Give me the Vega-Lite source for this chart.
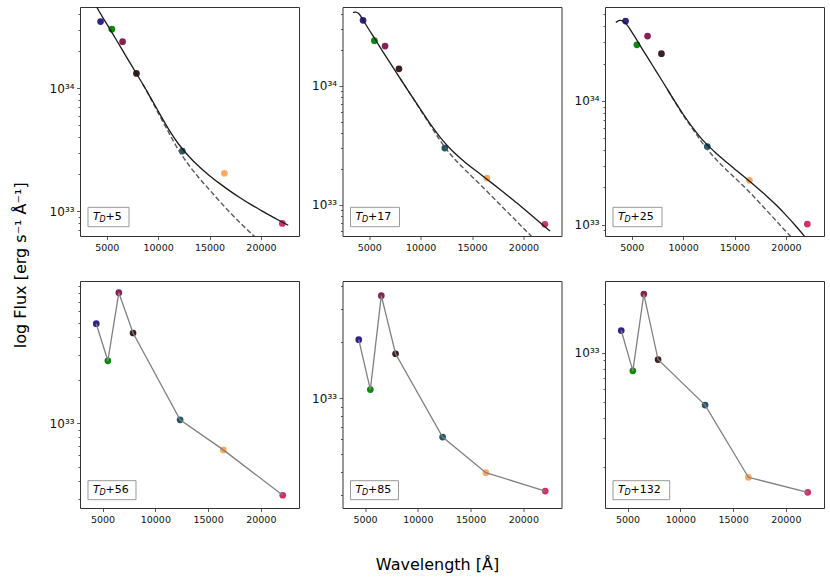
{
  "$schema": "https://vega.github.io/schema/vega-lite/v6.json",
  "description": "SED fits per epoch",
  "padding": {"left": 12, "top": 6, "right": 2, "bottom": 5},
  "background": "white",
  "config": {
    "font": "DejaVu Sans",
    "view": {"stroke": "#333333", "strokeWidth": 1},
    "axis": {"domain": false, "grid": false, "ticks": true, "tickColor": "#333333", "tickSize": 3.5, "tickWidth": 0.8, "labelFont": "DejaVu Sans", "labelFontSize": 9.5, "labelColor": "#111111", "labelPadding": 2.5, "labelFlush": false, "labelOverlap": false},
    "title": {"font": "DejaVu Sans", "fontSize": 16, "fontWeight": "normal", "color": "#000000"}
  },
  "data": {
    "values": [
      {"p": "5", "k": "obs", "b": "B", "wl": 4400, "f": 3.48e34},
      {"p": "5", "k": "obs", "b": "V", "wl": 5500, "f": 3.02e34},
      {"p": "5", "k": "obs", "b": "R", "wl": 6540, "f": 2.39e34},
      {"p": "5", "k": "obs", "b": "I", "wl": 7890, "f": 1.32e34},
      {"p": "5", "k": "obs", "b": "J", "wl": 12350, "f": 3.09e33},
      {"p": "5", "k": "obs", "b": "H", "wl": 16450, "f": 2.04e33},
      {"p": "5", "k": "obs", "b": "K", "wl": 22080, "f": 7.98e32},
      {"p": "17", "k": "obs", "b": "B", "wl": 4400, "f": 3.56e34},
      {"p": "17", "k": "obs", "b": "V", "wl": 5500, "f": 2.40e34},
      {"p": "17", "k": "obs", "b": "R", "wl": 6540, "f": 2.16e34},
      {"p": "17", "k": "obs", "b": "I", "wl": 7890, "f": 1.39e34},
      {"p": "17", "k": "obs", "b": "J", "wl": 12350, "f": 2.99e33},
      {"p": "17", "k": "obs", "b": "H", "wl": 16450, "f": 1.67e33},
      {"p": "17", "k": "obs", "b": "K", "wl": 22080, "f": 6.82e32},
      {"p": "25", "k": "obs", "b": "B", "wl": 4400, "f": 4.42e34},
      {"p": "25", "k": "obs", "b": "V", "wl": 5500, "f": 2.84e34},
      {"p": "25", "k": "obs", "b": "R", "wl": 6540, "f": 3.34e34},
      {"p": "25", "k": "obs", "b": "I", "wl": 7890, "f": 2.41e34},
      {"p": "25", "k": "obs", "b": "J", "wl": 12350, "f": 4.28e33},
      {"p": "25", "k": "obs", "b": "H", "wl": 16450, "f": 2.28e33},
      {"p": "25", "k": "obs", "b": "K", "wl": 22080, "f": 1.01e33},
      {"p": "56", "k": "obs", "b": "B", "wl": 4400, "f": 4.92e33},
      {"p": "56", "k": "obs", "b": "V", "wl": 5500, "f": 2.72e33},
      {"p": "56", "k": "obs", "b": "R", "wl": 6540, "f": 8.07e33},
      {"p": "56", "k": "obs", "b": "I", "wl": 7890, "f": 4.24e33},
      {"p": "56", "k": "obs", "b": "J", "wl": 12350, "f": 1.06e33},
      {"p": "56", "k": "obs", "b": "H", "wl": 16450, "f": 6.56e32},
      {"p": "56", "k": "obs", "b": "K", "wl": 22080, "f": 3.18e32},
      {"p": "85", "k": "obs", "b": "B", "wl": 4400, "f": 2.06e33},
      {"p": "85", "k": "obs", "b": "V", "wl": 5500, "f": 1.11e33},
      {"p": "85", "k": "obs", "b": "R", "wl": 6540, "f": 3.55e33},
      {"p": "85", "k": "obs", "b": "I", "wl": 7890, "f": 1.73e33},
      {"p": "85", "k": "obs", "b": "J", "wl": 12350, "f": 6.17e32},
      {"p": "85", "k": "obs", "b": "H", "wl": 16450, "f": 3.97e32},
      {"p": "85", "k": "obs", "b": "K", "wl": 22080, "f": 3.16e32},
      {"p": "132", "k": "obs", "b": "B", "wl": 4400, "f": 1.37e33},
      {"p": "132", "k": "obs", "b": "V", "wl": 5500, "f": 7.76e32},
      {"p": "132", "k": "obs", "b": "R", "wl": 6540, "f": 2.29e33},
      {"p": "132", "k": "obs", "b": "I", "wl": 7890, "f": 9.1e32},
      {"p": "132", "k": "obs", "b": "J", "wl": 12350, "f": 4.79e32},
      {"p": "132", "k": "obs", "b": "H", "wl": 16450, "f": 1.73e32},
      {"p": "132", "k": "obs", "b": "K", "wl": 22080, "f": 1.40e32},

      {"p": "5", "k": "bb", "wl": 3400, "f": 5.75e34},
      {"p": "5", "k": "bb", "wl": 4020, "f": 4.57e34},
      {"p": "5", "k": "bb", "wl": 5000, "f": 3.33e34},
      {"p": "5", "k": "bb", "wl": 6000, "f": 2.42e34},
      {"p": "5", "k": "bb", "wl": 7000, "f": 1.75e34},
      {"p": "5", "k": "bb", "wl": 8000, "f": 1.27e34},
      {"p": "5", "k": "bb", "wl": 9000, "f": 9.18e33},
      {"p": "5", "k": "bb", "wl": 10000, "f": 6.53e33},
      {"p": "5", "k": "bb", "wl": 11000, "f": 4.68e33},
      {"p": "5", "k": "bb", "wl": 12000, "f": 3.51e33},
      {"p": "5", "k": "bb", "wl": 13000, "f": 2.79e33},
      {"p": "5", "k": "bb", "wl": 14000, "f": 2.30e33},
      {"p": "5", "k": "bb", "wl": 15000, "f": 1.95e33},
      {"p": "5", "k": "bb", "wl": 16000, "f": 1.68e33},
      {"p": "5", "k": "bb", "wl": 17000, "f": 1.46e33},
      {"p": "5", "k": "bb", "wl": 18000, "f": 1.285e33},
      {"p": "5", "k": "bb", "wl": 19000, "f": 1.14e33},
      {"p": "5", "k": "bb", "wl": 20000, "f": 1.019e33},
      {"p": "5", "k": "bb", "wl": 21000, "f": 9.14e32},
      {"p": "5", "k": "bb", "wl": 22000, "f": 8.24e32},
      {"p": "5", "k": "bb", "wl": 22650, "f": 7.71e32},
      {"p": "5", "k": "bb2", "wl": 8500, "f": 1.079e34},
      {"p": "5", "k": "bb2", "wl": 9000, "f": 9.12e33},
      {"p": "5", "k": "bb2", "wl": 10000, "f": 6.31e33},
      {"p": "5", "k": "bb2", "wl": 11000, "f": 4.42e33},
      {"p": "5", "k": "bb2", "wl": 12000, "f": 3.13e33},
      {"p": "5", "k": "bb2", "wl": 13000, "f": 2.37e33},
      {"p": "5", "k": "bb2", "wl": 14000, "f": 1.86e33},
      {"p": "5", "k": "bb2", "wl": 15000, "f": 1.496e33},
      {"p": "5", "k": "bb2", "wl": 16000, "f": 1.202e33},
      {"p": "5", "k": "bb2", "wl": 17000, "f": 9.77e32},
      {"p": "5", "k": "bb2", "wl": 18000, "f": 8.04e32},
      {"p": "5", "k": "bb2", "wl": 19000, "f": 6.68e32},
      {"p": "5", "k": "bb2", "wl": 20000, "f": 5.62e32},

      {"p": "17", "k": "bb", "wl": 3422, "f": 4.16e34},
      {"p": "17", "k": "bb", "wl": 3700, "f": 4.17e34},
      {"p": "17", "k": "bb", "wl": 3971, "f": 4.06e34},
      {"p": "17", "k": "bb", "wl": 4390, "f": 3.60e34},
      {"p": "17", "k": "bb", "wl": 4939, "f": 3.01e34},
      {"p": "17", "k": "bb", "wl": 5520, "f": 2.51e34},
      {"p": "17", "k": "bb", "wl": 6000, "f": 2.15e34},
      {"p": "17", "k": "bb", "wl": 7000, "f": 1.574e34},
      {"p": "17", "k": "bb", "wl": 8000, "f": 1.156e34},
      {"p": "17", "k": "bb", "wl": 9000, "f": 8.51e33},
      {"p": "17", "k": "bb", "wl": 10000, "f": 6.31e33},
      {"p": "17", "k": "bb", "wl": 11000, "f": 4.68e33},
      {"p": "17", "k": "bb", "wl": 12000, "f": 3.59e33},
      {"p": "17", "k": "bb", "wl": 13000, "f": 2.88e33},
      {"p": "17", "k": "bb", "wl": 14000, "f": 2.40e33},
      {"p": "17", "k": "bb", "wl": 15000, "f": 2.04e33},
      {"p": "17", "k": "bb", "wl": 16000, "f": 1.75e33},
      {"p": "17", "k": "bb", "wl": 17000, "f": 1.50e33},
      {"p": "17", "k": "bb", "wl": 18000, "f": 1.28e33},
      {"p": "17", "k": "bb", "wl": 19000, "f": 1.091e33},
      {"p": "17", "k": "bb", "wl": 20000, "f": 9.25e32},
      {"p": "17", "k": "bb", "wl": 21000, "f": 7.82e32},
      {"p": "17", "k": "bb", "wl": 22000, "f": 6.61e32},
      {"p": "17", "k": "bb", "wl": 22588, "f": 5.98e32},
      {"p": "17", "k": "bb2", "wl": 8000, "f": 1.156e34},
      {"p": "17", "k": "bb2", "wl": 9000, "f": 8.51e33},
      {"p": "17", "k": "bb2", "wl": 10000, "f": 6.24e33},
      {"p": "17", "k": "bb2", "wl": 11000, "f": 4.57e33},
      {"p": "17", "k": "bb2", "wl": 12000, "f": 3.36e33},
      {"p": "17", "k": "bb2", "wl": 13000, "f": 2.59e33},
      {"p": "17", "k": "bb2", "wl": 14000, "f": 2.09e33},
      {"p": "17", "k": "bb2", "wl": 15000, "f": 1.718e33},
      {"p": "17", "k": "bb2", "wl": 16000, "f": 1.413e33},
      {"p": "17", "k": "bb2", "wl": 17000, "f": 1.156e33},
      {"p": "17", "k": "bb2", "wl": 18000, "f": 9.44e32},
      {"p": "17", "k": "bb2", "wl": 19000, "f": 7.73e32},
      {"p": "17", "k": "bb2", "wl": 20000, "f": 6.31e32},
      {"p": "17", "k": "bb2", "wl": 21000, "f": 5.16e32},
      {"p": "17", "k": "bb2", "wl": 21300, "f": 4.86e32},

      {"p": "25", "k": "bb", "wl": 3451, "f": 4.31e34},
      {"p": "25", "k": "bb", "wl": 3874, "f": 4.47e34},
      {"p": "25", "k": "bb", "wl": 4200, "f": 4.40e34},
      {"p": "25", "k": "bb", "wl": 4487, "f": 4.17e34},
      {"p": "25", "k": "bb", "wl": 5000, "f": 3.61e34},
      {"p": "25", "k": "bb", "wl": 6000, "f": 2.65e34},
      {"p": "25", "k": "bb", "wl": 7000, "f": 1.95e34},
      {"p": "25", "k": "bb", "wl": 8000, "f": 1.435e34},
      {"p": "25", "k": "bb", "wl": 9000, "f": 1.05e34},
      {"p": "25", "k": "bb", "wl": 10000, "f": 7.80e33},
      {"p": "25", "k": "bb", "wl": 11000, "f": 5.98e33},
      {"p": "25", "k": "bb", "wl": 12000, "f": 4.73e33},
      {"p": "25", "k": "bb", "wl": 13000, "f": 3.92e33},
      {"p": "25", "k": "bb", "wl": 14000, "f": 3.31e33},
      {"p": "25", "k": "bb", "wl": 15000, "f": 2.82e33},
      {"p": "25", "k": "bb", "wl": 16000, "f": 2.41e33},
      {"p": "25", "k": "bb", "wl": 17000, "f": 2.056e33},
      {"p": "25", "k": "bb", "wl": 18000, "f": 1.738e33},
      {"p": "25", "k": "bb", "wl": 19000, "f": 1.452e33},
      {"p": "25", "k": "bb", "wl": 20000, "f": 1.194e33},
      {"p": "25", "k": "bb", "wl": 21000, "f": 9.66e32},
      {"p": "25", "k": "bb", "wl": 22000, "f": 7.67e32},
      {"p": "25", "k": "bb", "wl": 22300, "f": 7.13e32},
      {"p": "25", "k": "bb2", "wl": 8500, "f": 1.225e34},
      {"p": "25", "k": "bb2", "wl": 9000, "f": 1.047e34},
      {"p": "25", "k": "bb2", "wl": 10000, "f": 7.67e33},
      {"p": "25", "k": "bb2", "wl": 11000, "f": 5.82e33},
      {"p": "25", "k": "bb2", "wl": 12000, "f": 4.42e33},
      {"p": "25", "k": "bb2", "wl": 13000, "f": 3.51e33},
      {"p": "25", "k": "bb2", "wl": 14000, "f": 2.88e33},
      {"p": "25", "k": "bb2", "wl": 15000, "f": 2.40e33},
      {"p": "25", "k": "bb2", "wl": 16000, "f": 2.0e33},
      {"p": "25", "k": "bb2", "wl": 17000, "f": 1.641e33},
      {"p": "25", "k": "bb2", "wl": 18000, "f": 1.334e33},
      {"p": "25", "k": "bb2", "wl": 19000, "f": 1.084e33},
      {"p": "25", "k": "bb2", "wl": 20000, "f": 8.81e32},
      {"p": "25", "k": "bb2", "wl": 21000, "f": 7.24e32},

      {"p": "5", "k": "lab", "t": "+5"},
      {"p": "17", "k": "lab", "t": "+17"},
      {"p": "25", "k": "lab", "t": "+25"},
      {"p": "56", "k": "lab", "t": "+56"},
      {"p": "85", "k": "lab", "t": "+85"},
      {"p": "132", "k": "lab", "t": "+132"}
    ]
  },
  "title": {"text": "Wavelength [Å]", "orient": "bottom", "anchor": "middle", "offset": 33, "dx": 19},
  "vconcat": [
    {
      "title": {"text": "log Flux [erg s⁻¹ Å⁻¹]", "orient": "left", "anchor": "middle", "offset": 20},
      "columns": 3,
      "spacing": {"row": 45, "column": 43.5},
      "bounds": "flush",
      "concat": [
        {
          "width": 219, "height": 229,
          "transform": [{"filter": "datum.p == '5'"}],
          "layer": [
            {"transform": [{"filter": "datum.k == 'obs'"}],
             "mark": {"type": "circle", "size": 45, "opacity": 1},
             "encoding": {
               "x": {"field": "wl", "type": "quantitative", "scale": {"domain": [2400, 23700], "nice": false, "zero": false}, "axis": {"values": [5000, 10000, 15000, 20000], "format": "d", "title": null}},
               "y": {"field": "f", "type": "quantitative", "scale": {"type": "log", "domain": [6.31e32, 4.571e34], "nice": false}, "axis": {"orient": "left", "values": [1e33, 1e34], "labelFontSize": 12, "labelExpr": "datum.value > 5e33 ? '10³⁴' : '10³³'", "title": null}},
               "color": {"field": "b", "type": "nominal", "scale": {"domain": ["B", "V", "R", "I", "J", "H", "K"], "range": ["#332288", "#0c8a0c", "#882255", "#3b2020", "#225566", "#ffaa5f", "#cc3366"]}, "legend": null}}},
            {"transform": [{"filter": "datum.k == 'bb2'"}],
             "mark": {"type": "line", "clip": true, "interpolate": "monotone", "color": "#5a5a5a", "strokeWidth": 1.4, "strokeDash": [5, 2.5]},
             "encoding": {
               "x": {"field": "wl", "type": "quantitative", "scale": {"domain": [2400, 23700], "nice": false, "zero": false}, "axis": null},
               "y": {"field": "f", "type": "quantitative", "scale": {"type": "log", "domain": [6.31e32, 4.571e34], "nice": false}, "axis": {"orient": "left", "values": [7e32, 8e32, 9e32, 2e33, 3e33, 4e33, 5e33, 6e33, 7e33, 8e33, 9e33, 2e34, 3e34, 4e34], "labels": false, "tickSize": 2, "title": null}}}},
            {"transform": [{"filter": "datum.k == 'bb'"}],
             "mark": {"type": "line", "clip": true, "interpolate": "monotone", "color": "#1a1a1a", "strokeWidth": 1.3},
             "encoding": {
               "x": {"field": "wl", "type": "quantitative", "scale": {"domain": [2400, 23700], "nice": false, "zero": false}, "axis": null},
               "y": {"field": "f", "type": "quantitative", "scale": {"type": "log", "domain": [6.31e32, 4.571e34], "nice": false}, "axis": null}}},
            {"transform": [{"filter": "datum.k == 'lab'"}],
             "mark": {"type": "rect", "fill": "#ffffff", "stroke": "#999999", "strokeWidth": 1},
             "encoding": {
               "x": {"datum": 3178, "type": "quantitative", "scale": {"domain": [2400, 23700], "nice": false, "zero": false}, "axis": null},
               "x2": {"datum": 7166},
               "y": {"datum": 7.51e32, "type": "quantitative", "scale": {"type": "log", "domain": [6.31e32, 4.571e34], "nice": false}, "axis": null},
               "y2": {"datum": 1.079e33}}},
            {"transform": [{"filter": "datum.k == 'lab'"}],
             "mark": {"type": "text", "text": "T", "font": "DejaVu Sans", "fontStyle": "italic", "fontSize": 11, "align": "left", "baseline": "middle", "dx": 5, "color": "#000000"},
             "encoding": {
               "x": {"datum": 3178, "type": "quantitative", "scale": {"domain": [2400, 23700], "nice": false, "zero": false}, "axis": null},
               "y": {"datum": 9.0e32, "type": "quantitative", "scale": {"type": "log", "domain": [6.31e32, 4.571e34], "nice": false}, "axis": null}}},
            {"transform": [{"filter": "datum.k == 'lab'"}],
             "mark": {"type": "text", "text": "D", "font": "DejaVu Sans", "fontStyle": "italic", "fontSize": 8, "align": "left", "baseline": "middle", "dx": 11.5, "dy": 3, "color": "#000000"},
             "encoding": {
               "x": {"datum": 3178, "type": "quantitative", "scale": {"domain": [2400, 23700], "nice": false, "zero": false}, "axis": null},
               "y": {"datum": 9.0e32, "type": "quantitative", "scale": {"type": "log", "domain": [6.31e32, 4.571e34], "nice": false}, "axis": null}}},
            {"transform": [{"filter": "datum.k == 'lab'"}],
             "mark": {"type": "text", "font": "DejaVu Sans", "fontSize": 11, "align": "left", "baseline": "middle", "dx": 17.5, "color": "#000000"},
             "encoding": {
               "x": {"datum": 3178, "type": "quantitative", "scale": {"domain": [2400, 23700], "nice": false, "zero": false}, "axis": null},
               "y": {"datum": 9.0e32, "type": "quantitative", "scale": {"type": "log", "domain": [6.31e32, 4.571e34], "nice": false}, "axis": null},
               "text": {"field": "t"}}}
          ],
          "resolve": {"axis": {"x": "independent", "y": "independent"}}
        },
        {
          "width": 219, "height": 229,
          "transform": [{"filter": "datum.p == '17'"}],
          "layer": [
            {"transform": [{"filter": "datum.k == 'obs'"}],
             "mark": {"type": "circle", "size": 45, "opacity": 1},
             "encoding": {
               "x": {"field": "wl", "type": "quantitative", "scale": {"domain": [2400, 23700], "nice": false, "zero": false}, "axis": {"values": [5000, 10000, 15000, 20000], "format": "d", "title": null}},
               "y": {"field": "f", "type": "quantitative", "scale": {"type": "log", "domain": [5.433e32, 4.613e34], "nice": false}, "axis": {"orient": "left", "values": [1e33, 1e34], "labelFontSize": 12, "labelExpr": "datum.value > 5e33 ? '10³⁴' : '10³³'", "title": null}},
               "color": {"field": "b", "type": "nominal", "scale": {"domain": ["B", "V", "R", "I", "J", "H", "K"], "range": ["#332288", "#0c8a0c", "#882255", "#3b2020", "#225566", "#ffaa5f", "#cc3366"]}, "legend": null}}},
            {"transform": [{"filter": "datum.k == 'bb2'"}],
             "mark": {"type": "line", "clip": true, "interpolate": "monotone", "color": "#5a5a5a", "strokeWidth": 1.4, "strokeDash": [5, 2.5]},
             "encoding": {
               "x": {"field": "wl", "type": "quantitative", "scale": {"domain": [2400, 23700], "nice": false, "zero": false}, "axis": null},
               "y": {"field": "f", "type": "quantitative", "scale": {"type": "log", "domain": [5.433e32, 4.613e34], "nice": false}, "axis": {"orient": "left", "values": [6e32, 7e32, 8e32, 9e32, 2e33, 3e33, 4e33, 5e33, 6e33, 7e33, 8e33, 9e33, 2e34, 3e34, 4e34], "labels": false, "tickSize": 2, "title": null}}}},
            {"transform": [{"filter": "datum.k == 'bb'"}],
             "mark": {"type": "line", "clip": true, "interpolate": "monotone", "color": "#1a1a1a", "strokeWidth": 1.3},
             "encoding": {
               "x": {"field": "wl", "type": "quantitative", "scale": {"domain": [2400, 23700], "nice": false, "zero": false}, "axis": null},
               "y": {"field": "f", "type": "quantitative", "scale": {"type": "log", "domain": [5.433e32, 4.613e34], "nice": false}, "axis": null}}},
            {"transform": [{"filter": "datum.k == 'lab'"}],
             "mark": {"type": "rect", "fill": "#ffffff", "stroke": "#999999", "strokeWidth": 1},
             "encoding": {
               "x": {"datum": 3178, "type": "quantitative", "scale": {"domain": [2400, 23700], "nice": false, "zero": false}, "axis": null},
               "x2": {"datum": 7944},
               "y": {"datum": 6.507e32, "type": "quantitative", "scale": {"type": "log", "domain": [5.433e32, 4.613e34], "nice": false}, "axis": null},
               "y2": {"datum": 9.48e32}}},
            {"transform": [{"filter": "datum.k == 'lab'"}],
             "mark": {"type": "text", "text": "T", "font": "DejaVu Sans", "fontStyle": "italic", "fontSize": 11, "align": "left", "baseline": "middle", "dx": 5, "color": "#000000"},
             "encoding": {
               "x": {"datum": 3178, "type": "quantitative", "scale": {"domain": [2400, 23700], "nice": false, "zero": false}, "axis": null},
               "y": {"datum": 7.85e32, "type": "quantitative", "scale": {"type": "log", "domain": [5.433e32, 4.613e34], "nice": false}, "axis": null}}},
            {"transform": [{"filter": "datum.k == 'lab'"}],
             "mark": {"type": "text", "text": "D", "font": "DejaVu Sans", "fontStyle": "italic", "fontSize": 8, "align": "left", "baseline": "middle", "dx": 11.5, "dy": 3, "color": "#000000"},
             "encoding": {
               "x": {"datum": 3178, "type": "quantitative", "scale": {"domain": [2400, 23700], "nice": false, "zero": false}, "axis": null},
               "y": {"datum": 7.85e32, "type": "quantitative", "scale": {"type": "log", "domain": [5.433e32, 4.613e34], "nice": false}, "axis": null}}},
            {"transform": [{"filter": "datum.k == 'lab'"}],
             "mark": {"type": "text", "font": "DejaVu Sans", "fontSize": 11, "align": "left", "baseline": "middle", "dx": 17.5, "color": "#000000"},
             "encoding": {
               "x": {"datum": 3178, "type": "quantitative", "scale": {"domain": [2400, 23700], "nice": false, "zero": false}, "axis": null},
               "y": {"datum": 7.85e32, "type": "quantitative", "scale": {"type": "log", "domain": [5.433e32, 4.613e34], "nice": false}, "axis": null},
               "text": {"field": "t"}}}
          ],
          "resolve": {"axis": {"x": "independent", "y": "independent"}}
        },
        {
          "width": 219, "height": 229,
          "transform": [{"filter": "datum.p == '25'"}],
          "layer": [
            {"transform": [{"filter": "datum.k == 'obs'"}],
             "mark": {"type": "circle", "size": 45, "opacity": 1},
             "encoding": {
               "x": {"field": "wl", "type": "quantitative", "scale": {"domain": [2400, 23700], "nice": false, "zero": false}, "axis": {"values": [5000, 10000, 15000, 20000], "format": "d", "title": null}},
               "y": {"field": "f", "type": "quantitative", "scale": {"type": "log", "domain": [8.09e32, 5.741e34], "nice": false}, "axis": {"orient": "left", "values": [1e33, 1e34], "labelFontSize": 12, "labelExpr": "datum.value > 5e33 ? '10³⁴' : '10³³'", "title": null}},
               "color": {"field": "b", "type": "nominal", "scale": {"domain": ["B", "V", "R", "I", "J", "H", "K"], "range": ["#332288", "#0c8a0c", "#882255", "#3b2020", "#225566", "#ffaa5f", "#cc3366"]}, "legend": null}}},
            {"transform": [{"filter": "datum.k == 'bb2'"}],
             "mark": {"type": "line", "clip": true, "interpolate": "monotone", "color": "#5a5a5a", "strokeWidth": 1.4, "strokeDash": [5, 2.5]},
             "encoding": {
               "x": {"field": "wl", "type": "quantitative", "scale": {"domain": [2400, 23700], "nice": false, "zero": false}, "axis": null},
               "y": {"field": "f", "type": "quantitative", "scale": {"type": "log", "domain": [8.09e32, 5.741e34], "nice": false}, "axis": {"orient": "left", "values": [9e32, 2e33, 3e33, 4e33, 5e33, 6e33, 7e33, 8e33, 9e33, 2e34, 3e34, 4e34, 5e34], "labels": false, "tickSize": 2, "title": null}}}},
            {"transform": [{"filter": "datum.k == 'bb'"}],
             "mark": {"type": "line", "clip": true, "interpolate": "monotone", "color": "#1a1a1a", "strokeWidth": 1.3},
             "encoding": {
               "x": {"field": "wl", "type": "quantitative", "scale": {"domain": [2400, 23700], "nice": false, "zero": false}, "axis": null},
               "y": {"field": "f", "type": "quantitative", "scale": {"type": "log", "domain": [8.09e32, 5.741e34], "nice": false}, "axis": null}}},
            {"transform": [{"filter": "datum.k == 'lab'"}],
             "mark": {"type": "rect", "fill": "#ffffff", "stroke": "#999999", "strokeWidth": 1},
             "encoding": {
               "x": {"datum": 3178, "type": "quantitative", "scale": {"domain": [2400, 23700], "nice": false, "zero": false}, "axis": null},
               "x2": {"datum": 7944},
               "y": {"datum": 9.62e32, "type": "quantitative", "scale": {"type": "log", "domain": [8.09e32, 5.741e34], "nice": false}, "axis": null},
               "y2": {"datum": 1.380e33}}},
            {"transform": [{"filter": "datum.k == 'lab'"}],
             "mark": {"type": "text", "text": "T", "font": "DejaVu Sans", "fontStyle": "italic", "fontSize": 11, "align": "left", "baseline": "middle", "dx": 5, "color": "#000000"},
             "encoding": {
               "x": {"datum": 3178, "type": "quantitative", "scale": {"domain": [2400, 23700], "nice": false, "zero": false}, "axis": null},
               "y": {"datum": 1.152e33, "type": "quantitative", "scale": {"type": "log", "domain": [8.09e32, 5.741e34], "nice": false}, "axis": null}}},
            {"transform": [{"filter": "datum.k == 'lab'"}],
             "mark": {"type": "text", "text": "D", "font": "DejaVu Sans", "fontStyle": "italic", "fontSize": 8, "align": "left", "baseline": "middle", "dx": 11.5, "dy": 3, "color": "#000000"},
             "encoding": {
               "x": {"datum": 3178, "type": "quantitative", "scale": {"domain": [2400, 23700], "nice": false, "zero": false}, "axis": null},
               "y": {"datum": 1.152e33, "type": "quantitative", "scale": {"type": "log", "domain": [8.09e32, 5.741e34], "nice": false}, "axis": null}}},
            {"transform": [{"filter": "datum.k == 'lab'"}],
             "mark": {"type": "text", "font": "DejaVu Sans", "fontSize": 11, "align": "left", "baseline": "middle", "dx": 17.5, "color": "#000000"},
             "encoding": {
               "x": {"datum": 3178, "type": "quantitative", "scale": {"domain": [2400, 23700], "nice": false, "zero": false}, "axis": null},
               "y": {"datum": 1.152e33, "type": "quantitative", "scale": {"type": "log", "domain": [8.09e32, 5.741e34], "nice": false}, "axis": null},
               "text": {"field": "t"}}}
          ],
          "resolve": {"axis": {"x": "independent", "y": "independent"}}
        },
        {
          "width": 219, "height": 227,
          "transform": [{"filter": "datum.p == '56'"}],
          "layer": [
            {"transform": [{"filter": "datum.k == 'obs'"}],
             "mark": {"type": "circle", "size": 45, "opacity": 1},
             "encoding": {
               "x": {"field": "wl", "type": "quantitative", "scale": {"domain": [2860, 23620], "nice": false, "zero": false}, "axis": {"values": [5000, 10000, 15000, 20000], "format": "d", "title": null}},
               "y": {"field": "f", "type": "quantitative", "scale": {"type": "log", "domain": [2.594e32, 9.727e33], "nice": false}, "axis": {"orient": "left", "values": [1e33], "labelFontSize": 12, "labelExpr": "'10³³'", "title": null}},
               "color": {"field": "b", "type": "nominal", "scale": {"domain": ["B", "V", "R", "I", "J", "H", "K"], "range": ["#332288", "#0c8a0c", "#882255", "#3b2020", "#225566", "#ffaa5f", "#cc3366"]}, "legend": null}}},
            {"transform": [{"filter": "datum.k == 'obs'"}],
             "mark": {"type": "line", "color": "#808080", "strokeWidth": 1.3},
             "encoding": {
               "x": {"field": "wl", "type": "quantitative", "scale": {"domain": [2860, 23620], "nice": false, "zero": false}, "axis": null},
               "y": {"field": "f", "type": "quantitative", "scale": {"type": "log", "domain": [2.594e32, 9.727e33], "nice": false}, "axis": {"orient": "left", "values": [3e32, 4e32, 5e32, 6e32, 7e32, 8e32, 9e32, 2e33, 3e33, 4e33, 5e33, 6e33, 7e33, 8e33, 9e33], "labels": false, "tickSize": 2, "title": null}}}},
            {"transform": [{"filter": "datum.k == 'lab'"}],
             "mark": {"type": "rect", "fill": "#ffffff", "stroke": "#999999", "strokeWidth": 1},
             "encoding": {
               "x": {"datum": 3618, "type": "quantitative", "scale": {"domain": [2860, 23620], "nice": false, "zero": false}, "axis": null},
               "x2": {"datum": 8168},
               "y": {"datum": 2.962e32, "type": "quantitative", "scale": {"type": "log", "domain": [2.594e32, 9.727e33], "nice": false}, "axis": null},
               "y2": {"datum": 4.012e32}}},
            {"transform": [{"filter": "datum.k == 'lab'"}],
             "mark": {"type": "text", "text": "T", "font": "DejaVu Sans", "fontStyle": "italic", "fontSize": 11, "align": "left", "baseline": "middle", "dx": 5, "color": "#000000"},
             "encoding": {
               "x": {"datum": 3618, "type": "quantitative", "scale": {"domain": [2860, 23620], "nice": false, "zero": false}, "axis": null},
               "y": {"datum": 3.447e32, "type": "quantitative", "scale": {"type": "log", "domain": [2.594e32, 9.727e33], "nice": false}, "axis": null}}},
            {"transform": [{"filter": "datum.k == 'lab'"}],
             "mark": {"type": "text", "text": "D", "font": "DejaVu Sans", "fontStyle": "italic", "fontSize": 8, "align": "left", "baseline": "middle", "dx": 11.5, "dy": 3, "color": "#000000"},
             "encoding": {
               "x": {"datum": 3618, "type": "quantitative", "scale": {"domain": [2860, 23620], "nice": false, "zero": false}, "axis": null},
               "y": {"datum": 3.447e32, "type": "quantitative", "scale": {"type": "log", "domain": [2.594e32, 9.727e33], "nice": false}, "axis": null}}},
            {"transform": [{"filter": "datum.k == 'lab'"}],
             "mark": {"type": "text", "font": "DejaVu Sans", "fontSize": 11, "align": "left", "baseline": "middle", "dx": 17.5, "color": "#000000"},
             "encoding": {
               "x": {"datum": 3618, "type": "quantitative", "scale": {"domain": [2860, 23620], "nice": false, "zero": false}, "axis": null},
               "y": {"datum": 3.447e32, "type": "quantitative", "scale": {"type": "log", "domain": [2.594e32, 9.727e33], "nice": false}, "axis": null},
               "text": {"field": "t"}}}
          ],
          "resolve": {"axis": {"x": "independent", "y": "independent"}}
        },
        {
          "width": 219, "height": 227,
          "transform": [{"filter": "datum.p == '85'"}],
          "layer": [
            {"transform": [{"filter": "datum.k == 'obs'"}],
             "mark": {"type": "circle", "size": 45, "opacity": 1},
             "encoding": {
               "x": {"field": "wl", "type": "quantitative", "scale": {"domain": [2860, 23620], "nice": false, "zero": false}, "axis": {"values": [5000, 10000, 15000, 20000], "format": "d", "title": null}},
               "y": {"field": "f", "type": "quantitative", "scale": {"type": "log", "domain": [2.564e32, 4.256e33], "nice": false}, "axis": {"orient": "left", "values": [1e33], "labelFontSize": 12, "labelExpr": "'10³³'", "title": null}},
               "color": {"field": "b", "type": "nominal", "scale": {"domain": ["B", "V", "R", "I", "J", "H", "K"], "range": ["#332288", "#0c8a0c", "#882255", "#3b2020", "#225566", "#ffaa5f", "#cc3366"]}, "legend": null}}},
            {"transform": [{"filter": "datum.k == 'obs'"}],
             "mark": {"type": "line", "color": "#808080", "strokeWidth": 1.3},
             "encoding": {
               "x": {"field": "wl", "type": "quantitative", "scale": {"domain": [2860, 23620], "nice": false, "zero": false}, "axis": null},
               "y": {"field": "f", "type": "quantitative", "scale": {"type": "log", "domain": [2.564e32, 4.256e33], "nice": false}, "axis": {"orient": "left", "values": [3e32, 4e32, 5e32, 6e32, 7e32, 8e32, 9e32, 2e33, 3e33, 4e33], "labels": false, "tickSize": 2, "title": null}}}},
            {"transform": [{"filter": "datum.k == 'lab'"}],
             "mark": {"type": "rect", "fill": "#ffffff", "stroke": "#999999", "strokeWidth": 1},
             "encoding": {
               "x": {"datum": 3618, "type": "quantitative", "scale": {"domain": [2860, 23620], "nice": false, "zero": false}, "axis": null},
               "x2": {"datum": 8168},
               "y": {"datum": 2.842e32, "type": "quantitative", "scale": {"type": "log", "domain": [2.564e32, 4.256e33], "nice": false}, "axis": null},
               "y2": {"datum": 3.595e32}}},
            {"transform": [{"filter": "datum.k == 'lab'"}],
             "mark": {"type": "text", "text": "T", "font": "DejaVu Sans", "fontStyle": "italic", "fontSize": 11, "align": "left", "baseline": "middle", "dx": 5, "color": "#000000"},
             "encoding": {
               "x": {"datum": 3618, "type": "quantitative", "scale": {"domain": [2860, 23620], "nice": false, "zero": false}, "axis": null},
               "y": {"datum": 3.196e32, "type": "quantitative", "scale": {"type": "log", "domain": [2.564e32, 4.256e33], "nice": false}, "axis": null}}},
            {"transform": [{"filter": "datum.k == 'lab'"}],
             "mark": {"type": "text", "text": "D", "font": "DejaVu Sans", "fontStyle": "italic", "fontSize": 8, "align": "left", "baseline": "middle", "dx": 11.5, "dy": 3, "color": "#000000"},
             "encoding": {
               "x": {"datum": 3618, "type": "quantitative", "scale": {"domain": [2860, 23620], "nice": false, "zero": false}, "axis": null},
               "y": {"datum": 3.196e32, "type": "quantitative", "scale": {"type": "log", "domain": [2.564e32, 4.256e33], "nice": false}, "axis": null}}},
            {"transform": [{"filter": "datum.k == 'lab'"}],
             "mark": {"type": "text", "font": "DejaVu Sans", "fontSize": 11, "align": "left", "baseline": "middle", "dx": 17.5, "color": "#000000"},
             "encoding": {
               "x": {"datum": 3618, "type": "quantitative", "scale": {"domain": [2860, 23620], "nice": false, "zero": false}, "axis": null},
               "y": {"datum": 3.196e32, "type": "quantitative", "scale": {"type": "log", "domain": [2.564e32, 4.256e33], "nice": false}, "axis": null},
               "text": {"field": "t"}}}
          ],
          "resolve": {"axis": {"x": "independent", "y": "independent"}}
        },
        {
          "width": 219, "height": 227,
          "transform": [{"filter": "datum.p == '132'"}],
          "layer": [
            {"transform": [{"filter": "datum.k == 'obs'"}],
             "mark": {"type": "circle", "size": 45, "opacity": 1},
             "encoding": {
               "x": {"field": "wl", "type": "quantitative", "scale": {"domain": [2860, 23620], "nice": false, "zero": false}, "axis": {"values": [5000, 10000, 15000, 20000], "format": "d", "title": null}},
               "y": {"field": "f", "type": "quantitative", "scale": {"type": "log", "domain": [1.122e32, 2.754e33], "nice": false}, "axis": {"orient": "left", "values": [1e33], "labelFontSize": 12, "labelExpr": "'10³³'", "title": null}},
               "color": {"field": "b", "type": "nominal", "scale": {"domain": ["B", "V", "R", "I", "J", "H", "K"], "range": ["#332288", "#0c8a0c", "#882255", "#3b2020", "#225566", "#ffaa5f", "#cc3366"]}, "legend": null}}},
            {"transform": [{"filter": "datum.k == 'obs'"}],
             "mark": {"type": "line", "color": "#808080", "strokeWidth": 1.3},
             "encoding": {
               "x": {"field": "wl", "type": "quantitative", "scale": {"domain": [2860, 23620], "nice": false, "zero": false}, "axis": null},
               "y": {"field": "f", "type": "quantitative", "scale": {"type": "log", "domain": [1.122e32, 2.754e33], "nice": false}, "axis": {"orient": "left", "values": [2e32, 3e32, 4e32, 5e32, 6e32, 7e32, 8e32, 9e32, 2e33], "labels": false, "tickSize": 2, "title": null}}}},
            {"transform": [{"filter": "datum.k == 'lab'"}],
             "mark": {"type": "rect", "fill": "#ffffff", "stroke": "#999999", "strokeWidth": 1},
             "encoding": {
               "x": {"datum": 3618, "type": "quantitative", "scale": {"domain": [2860, 23620], "nice": false, "zero": false}, "axis": null},
               "x2": {"datum": 8993},
               "y": {"datum": 1.261e32, "type": "quantitative", "scale": {"type": "log", "domain": [1.122e32, 2.754e33], "nice": false}, "axis": null},
               "y2": {"datum": 1.649e32}}},
            {"transform": [{"filter": "datum.k == 'lab'"}],
             "mark": {"type": "text", "text": "T", "font": "DejaVu Sans", "fontStyle": "italic", "fontSize": 11, "align": "left", "baseline": "middle", "dx": 5, "color": "#000000"},
             "encoding": {
               "x": {"datum": 3618, "type": "quantitative", "scale": {"domain": [2860, 23620], "nice": false, "zero": false}, "axis": null},
               "y": {"datum": 1.442e32, "type": "quantitative", "scale": {"type": "log", "domain": [1.122e32, 2.754e33], "nice": false}, "axis": null}}},
            {"transform": [{"filter": "datum.k == 'lab'"}],
             "mark": {"type": "text", "text": "D", "font": "DejaVu Sans", "fontStyle": "italic", "fontSize": 8, "align": "left", "baseline": "middle", "dx": 11.5, "dy": 3, "color": "#000000"},
             "encoding": {
               "x": {"datum": 3618, "type": "quantitative", "scale": {"domain": [2860, 23620], "nice": false, "zero": false}, "axis": null},
               "y": {"datum": 1.442e32, "type": "quantitative", "scale": {"type": "log", "domain": [1.122e32, 2.754e33], "nice": false}, "axis": null}}},
            {"transform": [{"filter": "datum.k == 'lab'"}],
             "mark": {"type": "text", "font": "DejaVu Sans", "fontSize": 11, "align": "left", "baseline": "middle", "dx": 17.5, "color": "#000000"},
             "encoding": {
               "x": {"datum": 3618, "type": "quantitative", "scale": {"domain": [2860, 23620], "nice": false, "zero": false}, "axis": null},
               "y": {"datum": 1.442e32, "type": "quantitative", "scale": {"type": "log", "domain": [1.122e32, 2.754e33], "nice": false}, "axis": null},
               "text": {"field": "t"}}}
          ],
          "resolve": {"axis": {"x": "independent", "y": "independent"}}
        }
      ]
    }
  ]
}
